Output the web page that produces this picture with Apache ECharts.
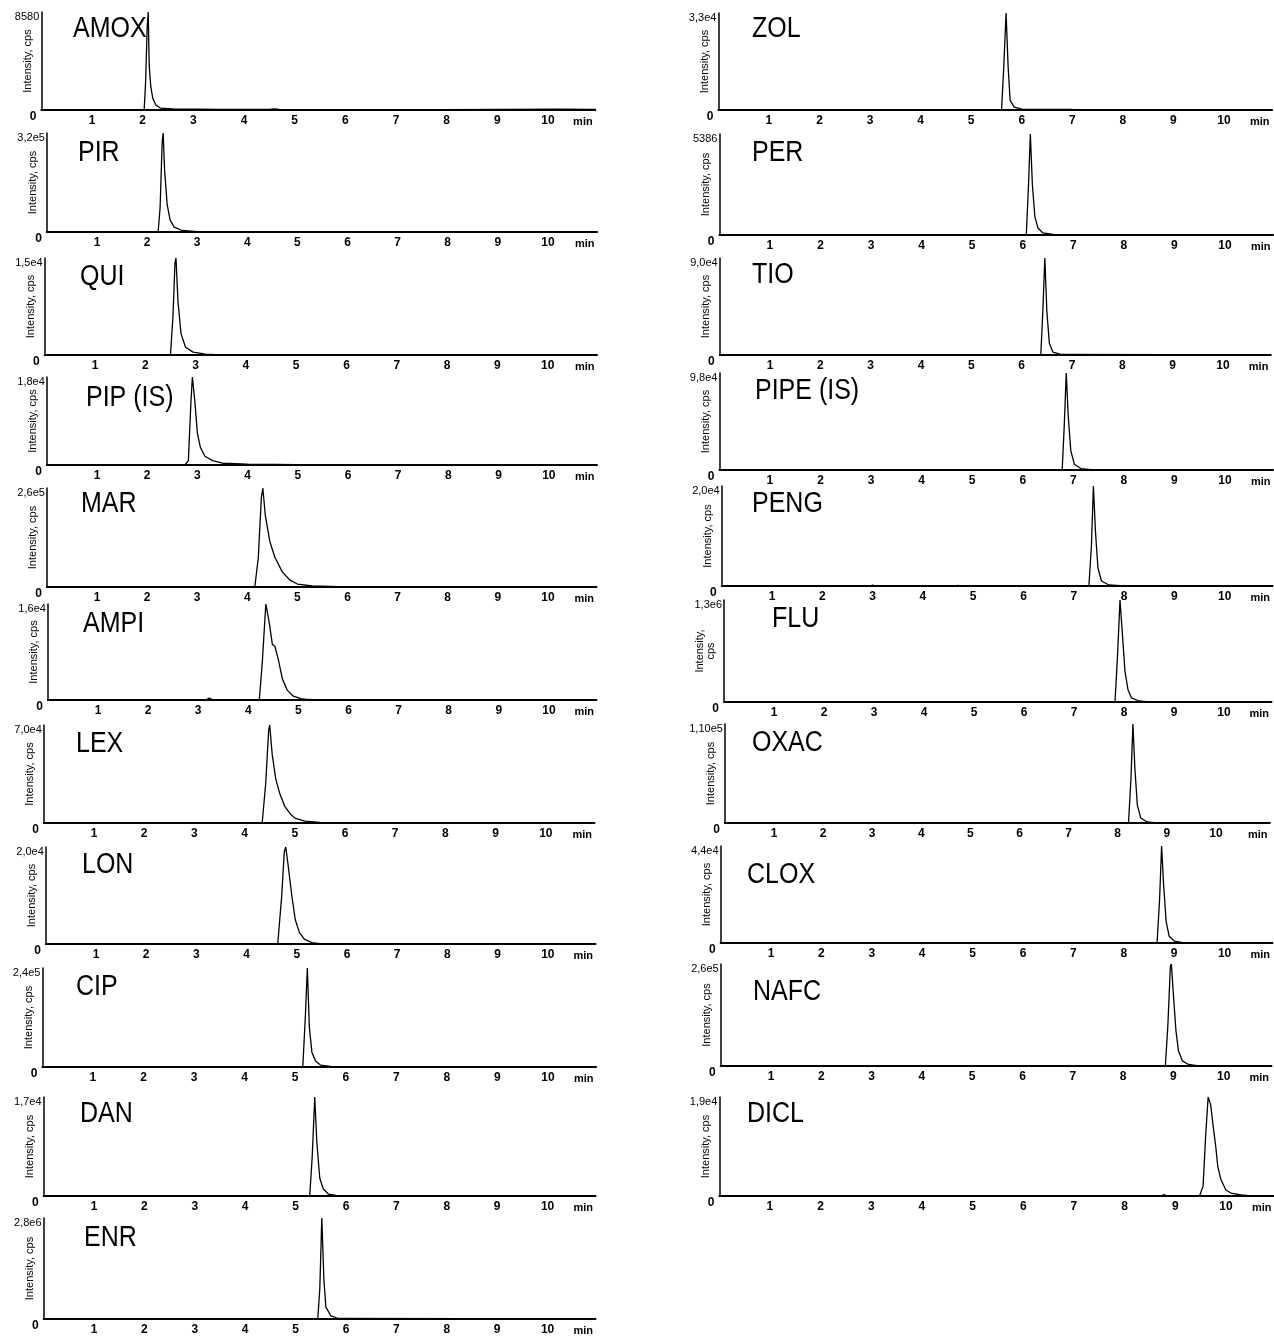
<!DOCTYPE html>
<html><head><meta charset="utf-8">
<script src="https://cdn.jsdelivr.net/npm/echarts@6/dist/echarts.min.js"></script>
<style>html,body{margin:0;padding:0;background:#fff}#c{width:1274px;height:1337px}</style>
</head><body><div id="c"></div>
<script>
// Compound names (left column then right column)
const compounds = ['AMOX','PIR','QUI','PIP (IS)','MAR','AMPI','LEX','LON','CIP','DAN','ENR',
                   'ZOL','PER','TIO','PIPE (IS)','PENG','FLU','OXAC','CLOX','NAFC','DICL'];
// Y-axis maximum labels (intensity, cps)
const maxLabels = ['8580','3,2e5','1,5e4','1,8e4','2,6e5','1,6e4','7,0e4','2,0e4','2,4e5','1,7e4','2,8e6',
                   '3,3e4','5386','9,0e4','9,8e4','2,0e4','1,3e6','1,10e5','4,4e4','2,6e5','1,9e4'];
// X tick labels (min)
const timeTicks = [1,2,3,4,5,6,7,8,9,10];

// Chromatogram traces: [time (min), relative intensity %]
const amox = [[0,0],[2.03,0],[2.06,30],[2.09,85],[2.11,100],[2.13,45],[2.16,24],[2.2,12],[2.26,5],[2.35,2],[2.6,1],[3.5,0.5],[4.5,0.5],[4.6,1],[4.7,0.5],[8,0.3],[10.2,0.8],[10.95,0.5]];
const pir = [[0,0],[2.22,0],[2.26,25],[2.3,90],[2.32,100],[2.35,62],[2.4,28],[2.46,12],[2.54,5],[2.7,1.5],[3,0.3],[10.98,0]];
const qui = [[0,0],[2.5,0],[2.55,40],[2.59,95],[2.61,100],[2.65,55],[2.71,22],[2.8,8],[2.95,3],[3.2,1],[3.5,0],[10.98,0]];
const pip = [[0,0],[2.75,0],[2.82,5],[2.87,70],[2.9,100],[2.95,72],[3.0,36],[3.06,20],[3.15,10],[3.3,5],[3.5,2],[4.0,1],[5,0.5],[10.96,0]];
const mar = [[0,0],[4.15,0],[4.22,30],[4.28,90],[4.31,100],[4.36,72],[4.45,46],[4.55,30],[4.7,15],[4.85,7],[5.0,3],[5.3,1],[6,0],[10.97,0]];
const ampi = [[0,0],[3.15,0],[3.22,2],[3.3,0],[4.22,0],[4.28,40],[4.35,100],[4.42,80],[4.48,58],[4.53,56],[4.6,42],[4.68,22],[4.78,10],[4.9,4],[5.05,1.5],[5.2,0.5],[5.4,0],[10.95,0]];
const lex = [[0,0],[4.35,0],[4.42,40],[4.48,95],[4.5,100],[4.55,70],[4.62,45],[4.7,30],[4.8,17],[4.9,10],[5.0,5],[5.2,2],[5.5,0.5],[10.97,0]];
const lon = [[0,0],[4.62,0],[4.7,50],[4.75,95],[4.78,100],[4.83,80],[4.9,50],[4.97,25],[5.05,12],[5.15,5],[5.3,1.5],[5.5,0],[10.95,0]];
const cip = [[0,0],[5.15,0],[5.2,50],[5.24,100],[5.28,40],[5.33,15],[5.4,6],[5.5,2],[5.7,0.5],[10.95,0]];
const dan = [[0,0],[5.28,0],[5.33,40],[5.38,100],[5.42,55],[5.48,18],[5.55,7],[5.65,2],[5.8,0.5],[10.95,0]];
const enr = [[0,0],[5.44,0],[5.48,30],[5.52,100],[5.56,40],[5.6,12],[5.7,3],[5.85,0.5],[10.95,0]];
const zol = [[0,0],[5.6,0],[5.64,40],[5.69,100],[5.73,45],[5.77,10],[5.85,3],[6.0,1],[7,0.5],[10.95,0.2]];
const per = [[0,0],[6.07,0],[6.11,45],[6.15,100],[6.19,50],[6.24,18],[6.3,7],[6.4,2],[6.6,0.5],[10.95,0]];
const tio = [[0,0],[6.38,0],[6.42,45],[6.46,100],[6.5,45],[6.55,12],[6.62,3],[6.8,0.5],[10.95,0]];
const pipe = [[0,0],[6.78,0],[6.82,45],[6.86,100],[6.9,55],[6.95,20],[7.02,6],[7.15,1.5],[7.4,0],[10.95,0]];
const peng = [[0,0],[2.95,0],[3.0,0.8],[3.05,0],[4.65,0],[4.7,0.6],[4.75,0],[7.3,0],[7.35,40],[7.39,100],[7.43,55],[7.48,18],[7.55,5],[7.7,1],[8,0],[10.95,0]];
const flu = [[0,0],[7.82,0],[7.87,45],[7.92,100],[7.97,65],[8.02,30],[8.08,12],[8.15,4],[8.3,1],[8.5,0],[10.95,0]];
const oxac = [[0,0],[8.22,0],[8.27,45],[8.31,100],[8.35,55],[8.4,18],[8.47,5],[8.6,1],[8.8,0],[11.1,0]];
const clox = [[0,0],[8.66,0],[8.71,45],[8.75,100],[8.79,60],[8.84,22],[8.9,7],[9.0,2],[9.2,0],[10.95,0]];
const nafc = [[0,0],[8.84,0],[8.89,40],[8.94,98],[8.96,100],[9.0,70],[9.05,35],[9.1,15],[9.18,5],[9.3,1.5],[9.5,0],[10.95,0]];
const dicl = [[0,0],[8.72,0],[8.78,1.5],[8.84,0],[9.48,0],[9.55,10],[9.6,60],[9.65,100],[9.7,92],[9.75,70],[9.8,50],[9.84,30],[9.9,17],[10.0,6],[10.1,3],[10.3,1],[10.5,0],[10.95,0]];

const traces = [amox,pir,qui,pip,mar,ampi,lex,lon,cip,dan,enr,zol,per,tio,pipe,peng,flu,oxac,clox,nafc,dicl];

// Layout: x of 0 min, px per min, x-axis max, plot top, axis y, title x, title y
const layout = [
 [41.3,50.67,10.93,12,110,73,14],[46.9,50.1,10.98,133,232,78,138],[44.7,50.3,10.98,258,355,80,262],
 [46.8,50.2,10.96,377,465,86,383],[46.9,50.1,10.97,488,587,81,489],[47.9,50.1,10.95,604,700,83,609],
 [43.8,50.2,10.97,725,823,76,729],[45.8,50.2,10.95,847,944,82,850],[42.4,50.56,10.95,968,1067,76,972],
 [43.6,50.4,10.95,1097,1196,80,1099],[43.6,50.4,10.95,1218,1319,84,1223],
 [718.4,50.56,10.95,13,110,752,14],[719.4,50.56,10.95,134,235,752,138],[719.7,50.33,10.95,258,355,752,260],
 [719.4,50.56,10.95,373,470,755,376],[721.7,50.3,10.95,486,586,752,489],[724,50,10.95,600,702,772,604],
 [724.9,49.1,11.1,724,823,752,728],[720.6,50.4,10.95,846,943,747,860],[720.7,50.3,10.95,964,1066,753,977],
 [719.3,50.67,10.95,1097,1196,747,1099]
];

const FONT = '"Liberation Sans", Arial, Helvetica, sans-serif';
const grid=[], xAxis=[], yAxis=[], series=[], graphic=[];
compounds.forEach((nm,i)=>{
  const [x0,s,xmax,top,ay,tx,ty] = layout[i];
  grid.push({left:x0, top:top, width:s*xmax, height:ay-top});
  xAxis.push({gridIndex:i, type:'value', min:0, max:xmax, interval:1,
    axisLine:{lineStyle:{color:'#000',width:2}}, axisTick:{show:false}, splitLine:{show:false},
    axisLabel:{color:'#000', fontSize:12, fontWeight:'bold', fontFamily:FONT, margin:5,
      showMaxLabel:false,
      formatter:v=> timeTicks.includes(v) ? String(v) : ''},
    name:'min', nameLocation:'end', nameGap:-22,
    nameTextStyle:{color:'#000', fontSize:11, fontWeight:'bold', fontFamily:FONT, verticalAlign:'top', padding:[6,0,0,0]}
  });
  const lab = maxLabels[i];
  yAxis.push({gridIndex:i, type:'value', min:0, max:100, interval:100,
    axisLine:{show:true, lineStyle:{color:'#000',width:1.5}}, axisTick:{show:false}, splitLine:{show:false},
    axisLabel:{margin:2, formatter:v=> v===0 ? '{z|0}' : '{m|'+lab+'}',
      rich:{z:{color:'#000',fontSize:12,fontWeight:'bold',fontFamily:FONT,padding:[14,3,0,0]},
            m:{color:'#000',fontSize:11,fontFamily:FONT,padding:[10,0,0,0]}}},
    name: nm==='FLU' ? 'Intensity,\ncps' : 'Intensity, cps', nameLocation:'middle', nameGap:8,
    nameMoveOverlap:false,
    nameTextStyle:{color:'#000', fontSize:11, fontFamily:FONT}
  });
  series.push({type:'line', xAxisIndex:i, yAxisIndex:i, data:traces[i], showSymbol:false, symbol:'none',
    lineStyle:{color:'#000', width:1.3}, z:3});
  graphic.push({type:'text', x:tx, y:ty, scaleY:1.2, z:10,
    style:{text:nm, fill:'#000', font:'normal 25px '+FONT, textVerticalAlign:'top'}});
});

const chart = echarts.init(document.getElementById('c'), null, {renderer:'canvas'});
chart.setOption({animation:false, backgroundColor:'#fff', graphic, grid, xAxis, yAxis, series});
</script></body></html>
